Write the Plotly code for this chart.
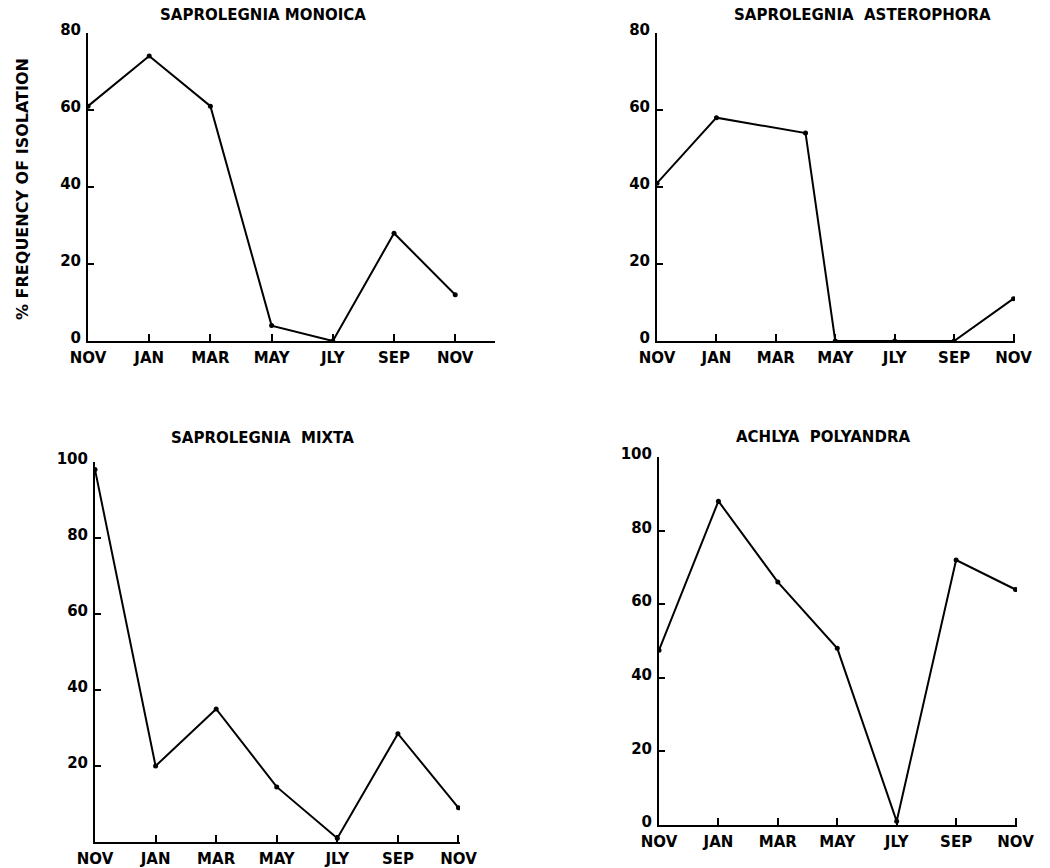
import plotly.graph_objects as go

# Month positions (months after first November)
month_pos = [0, 2, 4, 6, 8, 10, 12]
month_labels = ["NOV", "JAN", "MAR", "MAY", "JLY", "SEP", "NOV"]

# Saprolegnia monoica
monoica_x = [0, 2, 4, 6, 8, 10, 12]
monoica_y = [61, 74, 61, 4, 0, 28, 12]

# Saprolegnia asterophora
astero_x = [0, 2, 5, 6, 8, 10, 12]
astero_y = [41, 58, 54, 0, 0, 0, 11]

# Saprolegnia mixta
mixta_x = [0, 2, 4, 6, 8, 10, 12]
mixta_y = [98, 20, 35, 14.5, 1, 28.5, 9]

# Achlya polyandra
achlya_x = [0, 2, 4, 6, 8, 10, 12]
achlya_y = [47.5, 88, 66, 48, 1, 72, 64]

titles = ["SAPROLEGNIA MONOICA", "SAPROLEGNIA  ASTEROPHORA",
          "SAPROLEGNIA  MIXTA", "ACHLYA  POLYANDRA"]
y_title = "% FREQUENCY OF ISOLATION"

W, H = 1050, 868
FONT = "DejaVu Sans"

def fx(px):
    return px / W

def fy(py):
    return 1 - py / H

fig = go.Figure()

series = [(monoica_x, monoica_y), (astero_x, astero_y), (mixta_x, mixta_y), (achlya_x, achlya_y)]
for i, (xs, ys) in enumerate(series):
    sfx = "" if i == 0 else str(i + 1)
    fig.add_trace(go.Scatter(
        x=xs, y=ys, mode="lines+markers",
        line=dict(color="black", width=2),
        marker=dict(color="black", size=5),
        xaxis="x" + sfx, yaxis="y" + sfx, showlegend=False, hoverinfo="skip"))

# panel geometry in pixels: (x_left, x_right, y_top, y_bottom, xrange, yrange, yticks)
panels = [
    (88, 495, 33, 341, [0, 13.3], [0, 80], [0, 20, 40, 60, 80]),
    (657, 1015, 33, 341, [0, 12.05], [0, 80], [0, 20, 40, 60, 80]),
    (95, 460, 462, 842, [0, 12.05], [0, 100], [20, 40, 60, 80, 100]),
    (659, 1017, 457, 825, [0, 12.05], [0, 100], [0, 20, 40, 60, 80, 100]),
]

xtickfont = dict(family=FONT, size=15, color="black", weight="bold")
ytickfont = dict(family=FONT, size=15, color="black", weight="bold")
layout = dict(
    width=W, height=H, margin=dict(l=0, r=0, t=0, b=0, autoexpand=False),
    paper_bgcolor="white", plot_bgcolor="white", showlegend=False,
)
for i, (xl, xr, yt, yb, xrng, yrng, yt_vals) in enumerate(panels):
    sfx = "" if i == 0 else str(i + 1)
    layout["xaxis" + sfx] = dict(
        domain=[fx(xl), fx(xr)], range=xrng, anchor="y" + sfx,
        tickmode="array", tickvals=month_pos, ticktext=month_labels,
        ticks="inside", ticklen=7, tickwidth=1.5, tickcolor="black",
        showline=True, linecolor="black", linewidth=2, automargin=False,
        ticklabelstandoff=2,
        showgrid=False, zeroline=False, tickfont=xtickfont, fixedrange=True)
    layout["yaxis" + sfx] = dict(
        domain=[fy(yb), fy(yt)], range=yrng, anchor="x" + sfx,
        tickmode="array", tickvals=yt_vals, ticktext=[str(v) for v in yt_vals],
        ticks="inside", ticklen=6, tickwidth=1.5, tickcolor="black",
        showline=True, linecolor="black", linewidth=2, automargin=False,
        ticklabelshift=-3, ticklabelstandoff=2,
        showgrid=False, zeroline=False, tickfont=ytickfont, fixedrange=True)

fig.update_layout(**layout)

title_pos = [(263, 15), (862, 15), (262, 438), (823, 437)]
for t, (cx, cy) in zip(titles, title_pos):
    fig.add_annotation(text=t, x=fx(cx), y=fy(cy), xref="paper", yref="paper",
                       showarrow=False, xanchor="center", yanchor="middle",
                       font=dict(family=FONT, size=15, color="black", weight="bold"))

fig.add_annotation(text=y_title, x=fx(22), y=fy(189), xref="paper", yref="paper",
                   showarrow=False, textangle=-90, xanchor="center", yanchor="middle",
                   font=dict(family=FONT, size=16, color="black", weight="bold"))

fig.write_html("out.html")
